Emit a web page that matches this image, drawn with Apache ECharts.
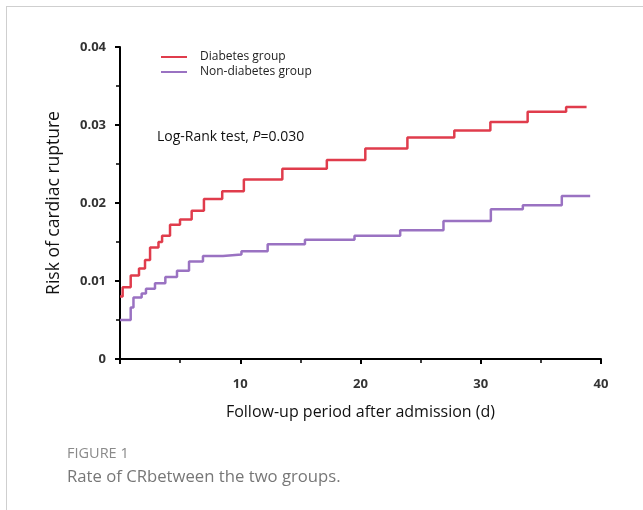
<!DOCTYPE html>
<html>
<head>
<meta charset="utf-8">
<script src="https://cdn.jsdelivr.net/npm/echarts@6/dist/echarts.min.js"></script>
<style>
  html, body { margin: 0; padding: 0; background: #fff; }
  #frame { position: absolute; left: 6px; top: 6px; width: 637px; height: 504px; border-top: 1px solid #cfcfcf; border-left: 1px solid #cfcfcf; }
  #chart { position: absolute; left: 0; top: 0; width: 643px; height: 510px; }
</style>
</head>
<body>
<div id="frame"></div>
<div id="chart"></div>
<script>
// Kaplan-Meier style cumulative risk (day, risk) – each value holds from its day onward
const diabetesDays   = [0, 0.22, 0.89, 1.58, 2.08, 2.5, 3.2, 3.5, 4.16, 4.99, 5.96, 6.98, 8.5, 10.3, 13.5, 17.2, 20.4, 23.9, 27.8, 30.8, 33.9, 37.1, 38.8];
const diabetesRisk   = [0.0080, 0.0092, 0.0107, 0.0116, 0.0127, 0.0143, 0.0150, 0.0158, 0.0172, 0.0179, 0.0190, 0.0205, 0.0215, 0.0230, 0.0244, 0.0255, 0.0270, 0.0284, 0.0293, 0.0304, 0.0317, 0.0323, 0.0323];
const nonDiabetesDays = [0, 0.89, 1.12, 1.8, 2.16, 2.91, 3.77, 4.74, 5.74, 6.9, 8.56, 10.1, 12.28, 15.38, 19.5, 23.3, 26.9, 30.84, 33.5, 36.74, 39.1];
const nonDiabetesRisk = [0.0050, 0.0066, 0.0079, 0.0084, 0.0090, 0.0097, 0.0105, 0.0113, 0.0125, 0.0132, 0.0134, 0.0138, 0.0147, 0.0153, 0.0158, 0.0165, 0.0177, 0.0192, 0.0197, 0.0209, 0.0209];
const seriesNames = ['Diabetes group', 'Non-diabetes group'];
const xTicks = [0, 10, 20, 30, 40];
const yTicks = [0, 0.01, 0.02, 0.03, 0.04];

const zip = (a, b) => a.map((v, i) => [v, b[i]]);
const chart = echarts.init(document.getElementById('chart'), null, { renderer: 'canvas' });
const FONT = 'Open Sans';
chart.setOption({
  animation: false,
  textStyle: { fontFamily: FONT },
  grid: { left: 120, right: 42, top: 47, bottom: 151, containLabel: false },
  legend: {
    orient: 'vertical', left: 156, top: 46, itemGap: 3,
    icon: 'rect', itemWidth: 26, itemHeight: 2,
    textStyle: { fontSize: 12, color: '#222', fontFamily: FONT, padding: [0, 0, 0, 8] },
    data: seriesNames
  },
  xAxis: {
    type: 'value', min: xTicks[0], max: xTicks[xTicks.length - 1], interval: 10,
    name: 'Follow-up period after admission (d)', nameLocation: 'middle', nameGap: 45,
    nameTextStyle: { fontSize: 16, color: '#111', fontFamily: FONT },
    axisLine: { show: true, onZero: false, lineStyle: { color: '#000', width: 2 } },
    axisTick: { show: true, length: 5, lineStyle: { color: '#000', width: 2 } },
    minorTick: { show: true, splitNumber: 2, length: 4, lineStyle: { color: '#000', width: 1.5 } },
    axisLabel: { margin: 19, fontSize: 13, fontWeight: 'bold', color: '#333', formatter: v => v === 0 ? '' : String(v) },
    splitLine: { show: false }
  },
  yAxis: {
    type: 'value', min: yTicks[0], max: yTicks[yTicks.length - 1], interval: 0.01,
    name: 'Risk of cardiac rupture', nameLocation: 'middle', nameGap: 57,
    nameTextStyle: { fontSize: 17.5, color: '#111', fontFamily: FONT },
    axisLine: { show: true, lineStyle: { color: '#000', width: 2 } },
    axisTick: { show: true, length: 5, lineStyle: { color: '#000', width: 2 } },
    minorTick: { show: true, splitNumber: 2, length: 4, lineStyle: { color: '#000', width: 1.5 } },
    axisLabel: { margin: 14, fontSize: 13, fontWeight: 'bold', color: '#333', formatter: v => v === 0 ? '0' : v.toFixed(2) },
    splitLine: { show: false }
  },
  series: [
    { name: seriesNames[0], type: 'line', step: 'end', showSymbol: false, symbol: 'none',
      data: zip(diabetesDays, diabetesRisk), lineStyle: { color: '#e03c4c', width: 2.5 }, itemStyle: { color: '#e03c4c' } },
    { name: seriesNames[1], type: 'line', step: 'end', showSymbol: false, symbol: 'none',
      data: zip(nonDiabetesDays, nonDiabetesRisk), lineStyle: { color: '#9a72c2', width: 2.5 }, itemStyle: { color: '#9a72c2' } }
  ],
  graphic: [
    { type: 'text', left: 157, top: 130,
      style: { text: '{n|Log-Rank test, }{i|P}{n|=0.030}',
        rich: { n: { fontSize: 14, fill: '#111', fontFamily: FONT }, i: { fontSize: 14, fill: '#111', fontStyle: 'italic', fontFamily: FONT } } } },
    { type: 'text', left: 67, top: 446, style: { text: 'FIGURE 1', fontSize: 14.5, fill: '#8a8a8a', fontFamily: FONT } },
    { type: 'text', left: 67, top: 469, style: { text: 'Rate of CRbetween the two groups.', fontSize: 16.7, fill: '#777', fontFamily: FONT } }
  ]
});
</script>
</body>
</html>
